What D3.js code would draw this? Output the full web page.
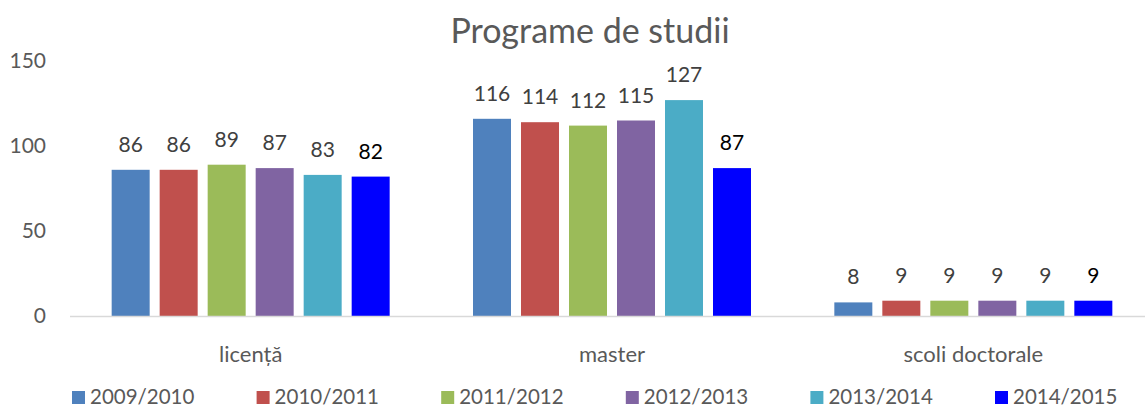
<!DOCTYPE html>
<html>
<head>
<meta charset="utf-8">
<script src="https://cdn.jsdelivr.net/npm/d3@7"></script>
<style>
  body { margin: 0; background: #fff; }
  text { font-family: Lato, "Open Sans", sans-serif; }
</style>
</head>
<body>
<div class="chart"></div>
<script>
var W = 1145, H = 410;

var categories = ["licență", "master", "scoli doctorale"];
var years = ["2009/2010", "2010/2011", "2011/2012", "2012/2013", "2013/2014", "2014/2015"];
var colors = ["#4F81BD", "#C0504D", "#9BBB59", "#8064A2", "#4BACC6", "#0000FF"];
// one array per year, values per category
var v2009 = [86, 116, 8];
var v2010 = [86, 114, 9];
var v2011 = [89, 112, 9];
var v2012 = [87, 115, 9];
var v2013 = [83, 127, 9];
var v2014 = [82, 87, 9];
var yTicks = [0, 50, 100, 150];

var series = [v2009, v2010, v2011, v2012, v2013, v2014];

var svg = d3.select(".chart").append("svg")
  .attr("width", W)
  .attr("height", H);

var x0 = d3.scaleBand()
  .domain(categories)
  .range([70, 1154]);

var x1 = d3.scaleBand()
  .domain(years)
  .range([0, 288])
  .paddingInner(10 / 48)
  .paddingOuter(5 / 48);

var y = d3.scaleLinear()
  .domain([0, 150])
  .range([316, 61]);

// title
svg.append("text")
  .attr("x", 590)
  .attr("y", 43)
  .attr("text-anchor", "middle")
  .style("font-size", "34px")
  .style("fill", "#595959")
  .text("Programe de studii");

// y axis labels only
var yAxis = d3.axisLeft(y)
  .tickValues(yTicks)
  .tickSize(0)
  .tickPadding(0);

var gy = svg.append("g")
  .attr("transform", "translate(46,0)")
  .call(yAxis);
gy.select(".domain").remove();
gy.selectAll("text")
  .style("font-size", "21px")
  .style("fill", "#595959")
  .style("font-family", "Lato, 'Open Sans', sans-serif");

// bars
var groups = svg.selectAll(".cat")
  .data(categories)
  .enter().append("g")
  .attr("class", "cat")
  .attr("transform", function(d) {
    return "translate(" + (x0(d) + x0.bandwidth() / 2 - 144) + ",0)";
  });

groups.selectAll("rect")
  .data(function(c, ci) {
    return years.map(function(yr, si) { return { year: yr, si: si, value: series[si][ci] }; });
  })
  .enter().append("rect")
  .attr("x", function(d) { return x1(d.year); })
  .attr("width", x1.bandwidth())
  .attr("y", function(d) { return y(d.value); })
  .attr("height", function(d) { return y(0) - y(d.value); })
  .style("fill", function(d) { return colors[d.si]; });

groups.selectAll(".lbl")
  .data(function(c, ci) {
    return years.map(function(yr, si) { return { year: yr, si: si, value: series[si][ci] }; });
  })
  .enter().append("text")
  .attr("class", "lbl")
  .attr("x", function(d) { return x1(d.year) + x1.bandwidth() / 2; })
  .attr("y", function(d) { return y(d.value) - 18; })
  .attr("text-anchor", "middle")
  .style("font-size", "21px")
  .style("fill", function(d) { return d.si == 5 ? "#000" : "#404040"; })
  .text(function(d) { return d.value; });

// x axis line
svg.append("line")
  .attr("x1", 70)
  .attr("x2", W)
  .attr("y1", y(0) + 0.5)
  .attr("y2", y(0) + 0.5)
  .style("stroke", "#d9d9d9")
  .style("stroke-width", 1.5);

// category labels
var xAxis = d3.axisBottom(x0).tickSize(0).tickPadding(0);
var gx = svg.append("g")
  .attr("transform", "translate(0,344)")
  .call(xAxis);
gx.select(".domain").remove();
gx.selectAll("text")
  .attr("dy", "0.8em")
  .style("font-size", "22px")
  .style("fill", "#595959")
  .style("font-family", "Lato, 'Open Sans', sans-serif");

// legend
var legend = svg.selectAll(".legend")
  .data(years)
  .enter().append("g")
  .attr("class", "legend")
  .attr("transform", function(d, i) { return "translate(" + (72 + i * 184.6) + ",391)"; });

legend.append("rect")
  .attr("width", 13)
  .attr("height", 13)
  .style("fill", function(d, i) { return colors[i]; });

legend.append("text")
  .attr("x", 18)
  .attr("y", 13)
  .style("font-size", "20.5px")
  .style("fill", "#595959")
  .text(function(d) { return d; });
</script>
</body>
</html>
